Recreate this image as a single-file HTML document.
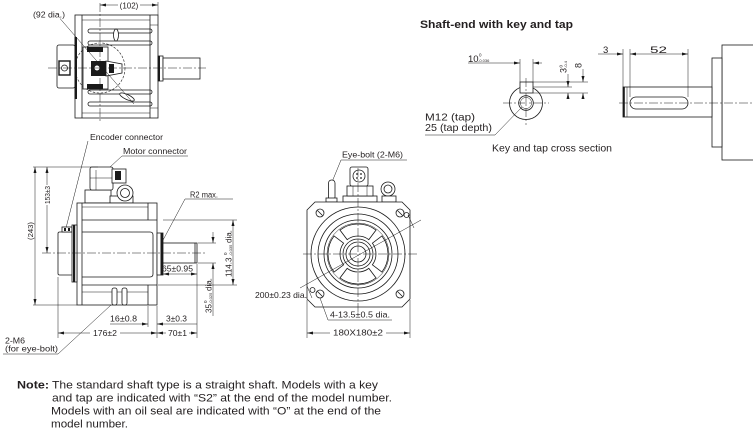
<!DOCTYPE html>
<html><head><meta charset="utf-8"><style>
html,body{margin:0;padding:0;background:#fff;}
svg{display:block}
text{font-family:"Liberation Sans",Arial,sans-serif;fill:#231f20;}
.o{fill:none;stroke:#1a1a1a;stroke-width:0.8}
.w{fill:#fff;stroke:#1a1a1a;stroke-width:0.8}
.d{fill:none;stroke:#1a1a1a;stroke-width:0.5}
.cl{fill:none;stroke:#1a1a1a;stroke-width:0.5;stroke-dasharray:9 2 2 2}
.k{fill:#1a1a1a}
</style></head><body>
<svg width="753" height="432" viewBox="0 0 753 432" xmlns="http://www.w3.org/2000/svg">
<defs><marker id="a" viewBox="0 0 6 3" refX="6" refY="1.5" markerWidth="6" markerHeight="3" markerUnits="userSpaceOnUse" orient="auto-start-reverse"><path d="M0,0L6,1.5L0,3z" fill="#1a1a1a"/></marker></defs>
<rect width="753" height="432" fill="#fff"/>

<!-- ================= TOP VIEW ================= -->
<rect class="w" x="75" y="15" width="83" height="103"/>
<line class="o" x1="82" y1="15" x2="82" y2="118"/>
<line class="o" x1="150" y1="15" x2="150" y2="118"/>
<line class="d" x1="82" y1="20" x2="150" y2="20"/>
<line class="d" x1="82" y1="113" x2="150" y2="113"/>
<line class="d" x1="150" y1="25" x2="158" y2="25"/>
<line class="d" x1="150" y1="108" x2="158" y2="108"/>
<rect class="o" x="88" y="29" width="64" height="4" rx="2"/>
<rect class="o" x="88" y="41" width="64" height="4" rx="2"/>
<rect class="o" x="88" y="90" width="64" height="4" rx="2"/>
<rect class="o" x="88" y="102" width="64" height="4" rx="2"/>
<!-- encoder -->
<rect class="w" x="57" y="45" width="18" height="43" rx="2"/>
<rect class="w" x="59" y="61" width="11" height="14" style="stroke-width:1.4"/>
<circle class="o" cx="64.5" cy="68" r="3"/>
<rect class="k" x="74.5" y="37" width="2.5" height="62"/>
<!-- dashed circle -->
<circle cx="100" cy="68" r="25" fill="none" stroke="#1a1a1a" stroke-width="0.6" stroke-dasharray="2.5 1.5"/>
<!-- connector -->
<rect class="w" x="83" y="47" width="25" height="42"/>
<rect class="k" x="87" y="47" width="16" height="5"/>
<rect class="k" x="87" y="84" width="16" height="5"/>
<rect class="k" x="91" y="61" width="15" height="15"/>
<circle cx="97" cy="68" r="2.5" fill="#fff"/>
<polygon class="w" points="106,61 122,64 122,73 106,76"/>
<rect class="k" x="109" y="64" width="5" height="9"/>
<ellipse class="w" cx="116" cy="35" rx="2.5" ry="6"/>
<ellipse class="w" cx="127" cy="97" rx="8" ry="2.5" transform="rotate(25 127 97)"/>
<!-- shaft -->
<rect class="w" x="158" y="56" width="5" height="25"/>
<rect class="k" x="158" y="56" width="2" height="25"/>
<rect class="w" x="163" y="58" width="37" height="21"/>
<!-- centerlines & dims -->
<line class="cl" x1="100" y1="3" x2="100" y2="122"/>
<line class="cl" x1="48" y1="68" x2="206" y2="68"/>
<line class="d" x1="158" y1="2" x2="158" y2="15"/>
<line class="d" x1="118" y1="5" x2="100" y2="5" marker-end="url(#a)"/>
<line class="d" x1="140" y1="5" x2="158" y2="5" marker-end="url(#a)"/>
<text x="129" y="8.5" font-size="8" text-anchor="middle">(102)</text>
<line class="d" x1="60" y1="18.5" x2="134" y2="104"/>
<text x="33" y="17.5" font-size="8.7" textLength="32" lengthAdjust="spacingAndGlyphs">(92 dia.)</text>

<!-- ================= SIDE VIEW ================= -->
<text x="90" y="140" font-size="8.7" textLength="73" lengthAdjust="spacingAndGlyphs">Encoder connector</text>
<line class="d" x1="88" y1="141" x2="66" y2="228"/>
<text x="123" y="154" font-size="8.7" textLength="64" lengthAdjust="spacingAndGlyphs">Motor connector</text>
<line class="d" x1="122" y1="156" x2="188" y2="156"/>
<line class="d" x1="122" y1="156" x2="110" y2="167"/>
<!-- motor connector -->
<rect class="w" x="85" y="190" width="26" height="13"/>
<rect class="w" x="110" y="196" width="23" height="7"/>
<rect class="w" x="90" y="167" width="23" height="23" rx="2"/>
<line class="d" x1="96" y1="170" x2="96" y2="190"/>
<line class="d" x1="90" y1="178" x2="113" y2="178"/>
<rect class="w" x="112" y="169" width="14" height="14"/>
<rect class="k" x="115" y="171" width="6" height="9"/>
<circle class="w" cx="125" cy="193" r="8"/>
<circle class="o" cx="125" cy="193" r="4.5"/>
<!-- body -->
<rect class="w" x="77" y="203" width="80" height="102"/>
<line class="o" x1="82" y1="203" x2="82" y2="305"/>
<line class="d" x1="82" y1="207" x2="148" y2="207"/>
<line class="o" x1="82" y1="220" x2="157" y2="220"/>
<path class="o" d="M82,232 L150,232 Q153,232 153,235 L153,274 Q153,277 150,277 L82,277"/>
<line class="o" x1="82" y1="285" x2="157" y2="285"/>
<line class="d" x1="82" y1="292" x2="148" y2="292"/>
<line class="o" x1="148" y1="203" x2="148" y2="220"/>
<line class="o" x1="148" y1="285" x2="148" y2="305"/>
<rect class="w" x="112" y="288" width="5" height="17" rx="2"/>
<rect class="w" x="122" y="288" width="5" height="17" rx="2"/>
<!-- encoder cap -->
<rect class="w" x="58" y="232" width="15" height="43" rx="1.5"/>
<rect class="w" x="62" y="227" width="10" height="5"/>
<rect class="k" x="64" y="228" width="2" height="3"/>
<rect class="k" x="68" y="228" width="2" height="3"/>
<rect class="w" x="72" y="225" width="5" height="57"/>
<rect class="k" x="73" y="225" width="2.2" height="57"/>
<!-- shoulder & shaft -->
<rect class="w" x="157" y="233" width="6" height="42"/>
<rect class="k" x="160.5" y="233" width="2.5" height="42"/>
<rect class="w" x="163" y="243" width="34" height="20"/>
<line class="o" x1="195" y1="243" x2="195" y2="263"/>
<line class="cl" x1="42" y1="253" x2="205" y2="253"/>
<!-- left dims -->
<line class="d" x1="33" y1="167" x2="98" y2="167"/>
<line class="d" x1="33" y1="305" x2="77" y2="305"/>
<line class="d" x1="35" y1="230" x2="35" y2="167" marker-end="url(#a)"/>
<line class="d" x1="35" y1="230" x2="35" y2="305" marker-end="url(#a)"/>
<text transform="translate(33,231) rotate(-90)" font-size="7.7" text-anchor="middle" textLength="18" lengthAdjust="spacingAndGlyphs">(243)</text>
<line class="d" x1="47" y1="185" x2="47" y2="167" marker-end="url(#a)"/>
<line class="d" x1="47" y1="205" x2="47" y2="253" marker-end="url(#a)"/>
<text transform="translate(50,195) rotate(-90)" font-size="7.5" text-anchor="middle" textLength="18" lengthAdjust="spacingAndGlyphs">153±3</text>
<!-- R2 -->
<text x="190" y="197.5" font-size="8" textLength="28" lengthAdjust="spacingAndGlyphs">R2 max.</text>
<line class="d" x1="185" y1="199" x2="233" y2="199"/>
<line class="d" x1="185" y1="199" x2="162" y2="242"/>
<!-- 114.3 -->
<line class="d" x1="163" y1="220" x2="237" y2="220"/>
<line class="d" x1="158" y1="285" x2="237" y2="285"/>
<line class="d" x1="233" y1="220" x2="233" y2="285" marker-start="url(#a)" marker-end="url(#a)"/>
<g transform="translate(231.5,277) rotate(-90)">
<text x="0" y="0" font-size="8">114.3</text>
<text x="22" y="-4.5" font-size="4.5">0</text>
<text x="21" y="0.5" font-size="4">-0.035</text>
<text x="34" y="0" font-size="8">dia.</text>
</g>
<!-- 35 -->
<line class="d" x1="198" y1="243" x2="216" y2="243"/>
<line class="d" x1="198" y1="263" x2="216" y2="263"/>
<line class="d" x1="213" y1="232" x2="213" y2="243" marker-end="url(#a)"/>
<line class="d" x1="213" y1="316" x2="213" y2="263" marker-end="url(#a)"/>
<g transform="translate(211.5,313) rotate(-90)">
<text x="0" y="0" font-size="8">35</text>
<text x="10" y="-4.5" font-size="4.5">0</text>
<text x="9" y="0.5" font-size="4">-0.025</text>
<text x="22" y="0" font-size="8">dia.</text>
</g>
<!-- 65 -->
<text x="162" y="271.5" font-size="8.5" textLength="31" lengthAdjust="spacingAndGlyphs">65±0.95</text>
<line class="d" x1="163" y1="274" x2="197" y2="274" marker-start="url(#a)" marker-end="url(#a)"/>
<!-- bottom dims -->
<line class="d" x1="148" y1="306" x2="148" y2="327"/>
<line class="d" x1="157" y1="306" x2="157" y2="338"/>
<line class="d" x1="197" y1="264" x2="197" y2="338"/>
<line class="d" x1="58" y1="277" x2="58" y2="338"/>
<text x="110" y="321.5" font-size="8.5" textLength="27" lengthAdjust="spacingAndGlyphs">16±0.8</text>
<line class="d" x1="110" y1="324" x2="148" y2="324" marker-end="url(#a)"/>
<text x="166" y="321.5" font-size="8.5" textLength="21" lengthAdjust="spacingAndGlyphs">3±0.3</text>
<line class="d" x1="197" y1="324" x2="157" y2="324" marker-end="url(#a)"/>
<text x="93" y="336" font-size="8.5" textLength="24" lengthAdjust="spacingAndGlyphs">176±2</text>
<line class="d" x1="90" y1="333" x2="58" y2="333" marker-end="url(#a)"/>
<line class="d" x1="120" y1="333" x2="157" y2="333" marker-end="url(#a)"/>
<text x="168" y="336" font-size="8.5" textLength="19" lengthAdjust="spacingAndGlyphs">70±1</text>
<line class="d" x1="166" y1="333" x2="157" y2="333" marker-end="url(#a)"/>
<line class="d" x1="189" y1="333" x2="197" y2="333" marker-end="url(#a)"/>
<text x="5" y="343.5" font-size="8.5" textLength="20" lengthAdjust="spacingAndGlyphs">2-M6</text>
<text x="5" y="351.5" font-size="8.5" textLength="53" lengthAdjust="spacingAndGlyphs">(for eye-bolt)</text>
<line class="d" x1="3" y1="354" x2="58" y2="354"/>
<line class="d" x1="58" y1="354" x2="111" y2="305"/>

<!-- ================= FRONT VIEW ================= -->
<text x="342" y="157.5" font-size="8.5" textLength="61" lengthAdjust="spacingAndGlyphs">Eye-bolt (2-M6)</text>
<line class="d" x1="341" y1="160" x2="407" y2="160"/>
<line class="d" x1="341" y1="160" x2="332" y2="182"/>
<!-- eye bolts & connector -->
<rect class="w" x="328.5" y="180" width="6.5" height="20" rx="3"/>
<rect class="w" x="326" y="198" width="11" height="4"/>
<circle class="o" cx="388" cy="189" r="7"/>
<circle class="o" cx="388" cy="189" r="4"/>
<rect class="w" x="382" y="196" width="14" height="6"/>
<rect class="w" x="343" y="196" width="34" height="6"/>
<rect class="w" x="347" y="186" width="26" height="10"/>
<line class="d" x1="353" y1="186" x2="353" y2="196"/>
<line class="d" x1="367" y1="186" x2="367" y2="196"/>
<rect class="w" x="350" y="167" width="18" height="19" rx="2"/>
<circle class="o" cx="359" cy="176" r="6"/>
<circle class="k" cx="357" cy="174" r="0.9"/><circle class="k" cx="361" cy="174" r="0.9"/><circle class="k" cx="357" cy="178" r="0.9"/><circle class="k" cx="361" cy="178" r="0.9"/>
<!-- square flange -->
<path class="w" d="M315,202 L402,202 L410,210 L410,299 L402,307 L315,307 L307,299 L307,210 Z"/>
<circle class="o" cx="358" cy="254" r="47"/>
<circle class="o" cx="358" cy="254" r="40"/>
<circle class="o" cx="358" cy="254" r="34"/>
<circle class="d" cx="358" cy="254" r="31"/>
<g id="win">
<path class="o" d="M339.95,230.04 A30,30 0 0 1 376.05,230.04 L368.83,239.63 A18,18 0 0 0 347.17,239.63 Z"/>
</g>
<g transform="rotate(90 358 254)"><path class="o" d="M339.95,230.04 A30,30 0 0 1 376.05,230.04 L368.83,239.63 A18,18 0 0 0 347.17,239.63 Z"/></g>
<g transform="rotate(180 358 254)"><path class="o" d="M339.95,230.04 A30,30 0 0 1 376.05,230.04 L368.83,239.63 A18,18 0 0 0 347.17,239.63 Z"/></g>
<g transform="rotate(270 358 254)"><path class="o" d="M339.95,230.04 A30,30 0 0 1 376.05,230.04 L368.83,239.63 A18,18 0 0 0 347.17,239.63 Z"/></g>
<circle class="o" cx="358" cy="254" r="15"/>
<circle class="o" cx="358" cy="254" r="12"/>
<circle class="o" cx="358" cy="254" r="8"/>
<!-- bolt holes -->
<g class="o">
<circle cx="320" cy="213" r="4"/><line x1="317.5" y1="210.5" x2="322.5" y2="215.5"/>
<circle cx="400" cy="213" r="4"/><line x1="397.5" y1="210.5" x2="402.5" y2="215.5"/>
<circle cx="320" cy="294" r="4"/><line x1="317.5" y1="291.5" x2="322.5" y2="296.5"/>
<circle cx="400" cy="294" r="4"/><line x1="397.5" y1="291.5" x2="402.5" y2="296.5"/>
<circle cx="406.5" cy="215" r="2.5"/>
<circle cx="312.5" cy="290" r="2.5"/>
</g>
<line class="cl" x1="303" y1="254" x2="418" y2="254"/>
<line class="cl" x1="358" y1="168" x2="358" y2="314"/>
<line class="d" x1="300" y1="288" x2="421" y2="220"/>
<line class="d" x1="307" y1="286" x2="312" y2="298"/>
<line class="d" x1="408" y1="215" x2="414" y2="228"/>
<text x="255" y="298" font-size="8.5" textLength="52" lengthAdjust="spacingAndGlyphs">200±0.23 dia.</text>
<text x="330" y="317.5" font-size="8.5" textLength="60" lengthAdjust="spacingAndGlyphs">4-13.5±0.5 dia.</text>
<line class="d" x1="328" y1="320" x2="392" y2="320"/>
<line class="d" x1="328" y1="320" x2="320" y2="298"/>
<line class="d" x1="307" y1="300" x2="307" y2="338"/>
<line class="d" x1="410" y1="300" x2="410" y2="338"/>
<line class="d" x1="330" y1="333" x2="307" y2="333" marker-end="url(#a)"/>
<line class="d" x1="386" y1="333" x2="410" y2="333" marker-end="url(#a)"/>
<text x="333" y="335.5" font-size="8.5" textLength="50" lengthAdjust="spacingAndGlyphs">180X180±2</text>

<!-- ================= SHAFT-END ================= -->
<text x="420" y="28" font-size="11" font-weight="bold" textLength="153" lengthAdjust="spacingAndGlyphs">Shaft-end with key and tap</text>
<!-- cross section -->
<circle class="o" cx="526" cy="103" r="16.5"/>
<circle class="o" cx="526" cy="103" r="7.3"/>
<circle class="d" cx="526" cy="103" r="5.6"/>
<rect class="w" x="520" y="82" width="13" height="11"/>
<line class="cl" x1="503" y1="103" x2="549" y2="103"/>
<line class="cl" x1="526" y1="78" x2="526" y2="125"/>
<line class="d" x1="520" y1="59" x2="520" y2="82"/>
<line class="d" x1="533" y1="59" x2="533" y2="82"/>
<line class="d" x1="468" y1="63" x2="520" y2="63" marker-end="url(#a)"/>
<line class="d" x1="542" y1="63" x2="533" y2="63" marker-end="url(#a)"/>
<text x="468" y="62" font-size="9.5">10</text>
<text x="479" y="56.5" font-size="4.5">0</text>
<text x="478" y="62" font-size="4">-0.036</text>
<line class="d" x1="533" y1="82" x2="588" y2="82"/>
<line class="d" x1="533" y1="87" x2="572" y2="87"/>
<line class="d" x1="533" y1="93" x2="588" y2="93"/>
<line class="d" x1="568" y1="74" x2="568" y2="87" marker-end="url(#a)"/>
<line class="d" x1="568" y1="99" x2="568" y2="93" marker-end="url(#a)"/>
<line class="d" x1="583" y1="69" x2="583" y2="82" marker-end="url(#a)"/>
<line class="d" x1="583" y1="99" x2="583" y2="93" marker-end="url(#a)"/>
<g transform="translate(566.5,73) rotate(-90)">
<text x="0" y="0" font-size="9">3</text>
<text x="5.5" y="-4" font-size="4.5">0</text>
<text x="5" y="0.5" font-size="4">-0.4</text>
</g>
<text transform="translate(581.5,68) rotate(-90)" font-size="9">8</text>
<text x="425" y="120.5" font-size="10.5" textLength="50" lengthAdjust="spacingAndGlyphs">M12 (tap)</text>
<text x="425" y="131" font-size="10.5" textLength="67" lengthAdjust="spacingAndGlyphs">25 (tap depth)</text>
<line class="d" x1="425" y1="135" x2="495" y2="135"/>
<line class="d" x1="495" y1="135" x2="522" y2="107"/>
<text x="492" y="151.5" font-size="10.5" textLength="120" lengthAdjust="spacingAndGlyphs">Key and tap cross section</text>
<!-- side shaft -->
<rect class="w" x="722" y="45" width="40" height="115"/>
<rect class="w" x="712" y="58" width="10" height="89"/>
<rect class="w" x="623" y="87" width="89" height="30"/>
<rect class="k" x="623" y="87" width="1.8" height="30"/>
<line class="d" x1="627" y1="87" x2="627" y2="117"/>
<rect class="o" x="630" y="97" width="58" height="12" rx="6"/>
<line class="cl" x1="619" y1="103" x2="753" y2="103"/>
<line class="d" x1="623" y1="49" x2="623" y2="87"/>
<line class="d" x1="630" y1="49" x2="630" y2="97"/>
<line class="d" x1="688" y1="49" x2="688" y2="97"/>
<line class="d" x1="598" y1="54" x2="623" y2="54" marker-end="url(#a)"/>
<line class="d" x1="630" y1="54" x2="688" y2="54" marker-start="url(#a)" marker-end="url(#a)"/>
<text x="603" y="53" font-size="9.5">3</text>
<text x="650" y="53" font-size="9.5" textLength="17" lengthAdjust="spacingAndGlyphs">52</text>

<!-- ================= NOTE ================= -->
<text x="17" y="388.5" font-size="11" font-weight="bold" textLength="32" lengthAdjust="spacingAndGlyphs">Note:</text>
<text x="52" y="388.5" font-size="11" textLength="326" lengthAdjust="spacingAndGlyphs">The standard shaft type is a straight shaft. Models with a key</text>
<text x="52" y="401.5" font-size="11" textLength="340" lengthAdjust="spacingAndGlyphs">and tap are indicated with “S2” at the end of the model number.</text>
<text x="51" y="414.5" font-size="11" textLength="330" lengthAdjust="spacingAndGlyphs">Models with an oil seal are indicated with “O” at the end of the</text>
<text x="51" y="427.5" font-size="11" textLength="77" lengthAdjust="spacingAndGlyphs">model number.</text>
</svg>
</body></html>
